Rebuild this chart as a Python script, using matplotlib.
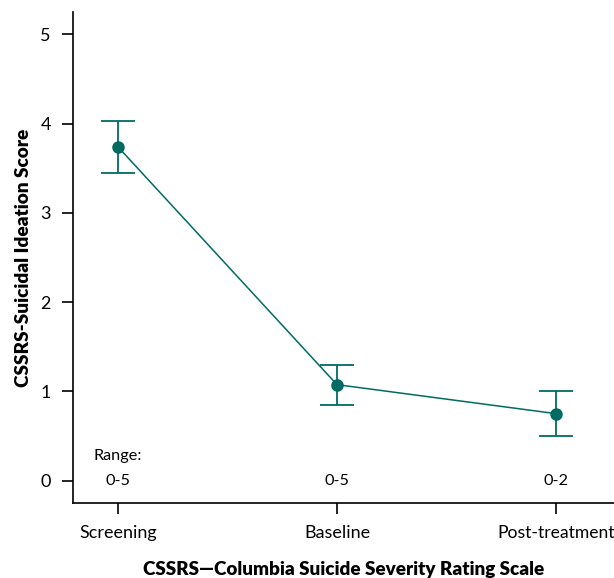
import matplotlib
matplotlib.use("Agg")
import matplotlib.pyplot as plt
import numpy as np

# data
categories = ["Screening", "Baseline", "Post-treatment"]
means = [3.74, 1.075, 0.75]
err_low = [3.45, 0.85, 0.50]
err_high = [4.03, 1.29, 1.00]
ranges = ["0-5", "0-5", "0-2"]
yticks = [0, 1, 2, 3, 4, 5]

TEAL = "#006b63"

plt.rcParams["font.family"] = ["Lato", "DejaVu Sans"]

fig = plt.figure(figsize=(6.14, 5.78), dpi=100)
ax = fig.add_axes([0.119, 0.130, 0.881, 0.849])

x = np.arange(len(categories))
means_arr = np.array(means)
yerr = [means_arr - np.array(err_low), np.array(err_high) - means_arr]

ax.plot(x, means, color=TEAL, lw=1.1, zorder=2)
ax.errorbar(x, means, yerr=yerr, fmt="o", color=TEAL, ms=8, capsize=12,
            elinewidth=1.3, capthick=1.3, zorder=3)

# range annotations along the bottom
ax.text(x[0], 0.27, "Range:", ha="center", va="center", fontsize=11.7)
for xi, r in zip(x, ranges):
    ax.text(xi, 0.0, r, ha="center", va="center", fontsize=11.7)

ax.set_xlim(-0.205, 2.265)
ax.set_ylim(-0.25, 5.25)
ax.set_xticks(x)
ax.set_xticklabels(categories)
ax.set_yticks(yticks)
ax.tick_params(axis="both", labelsize=13, length=8, width=1.2, pad=8)
# keep the last label inside the figure edge
ax.get_xticklabels()[-1].set_fontsize(12.6)

for side in ["top", "right"]:
    ax.spines[side].set_visible(False)
for side in ["left", "bottom"]:
    ax.spines[side].set_linewidth(1.2)

ax.set_ylabel("CSSRS-Suicidal Ideation Score", fontsize=13.7, fontweight="heavy", labelpad=6)
ax.set_xlabel("CSSRS\u2014Columbia Suicide Severity Rating Scale", fontsize=13.6,
              fontweight="heavy", labelpad=14)

fig.savefig("out.png", dpi=100)
